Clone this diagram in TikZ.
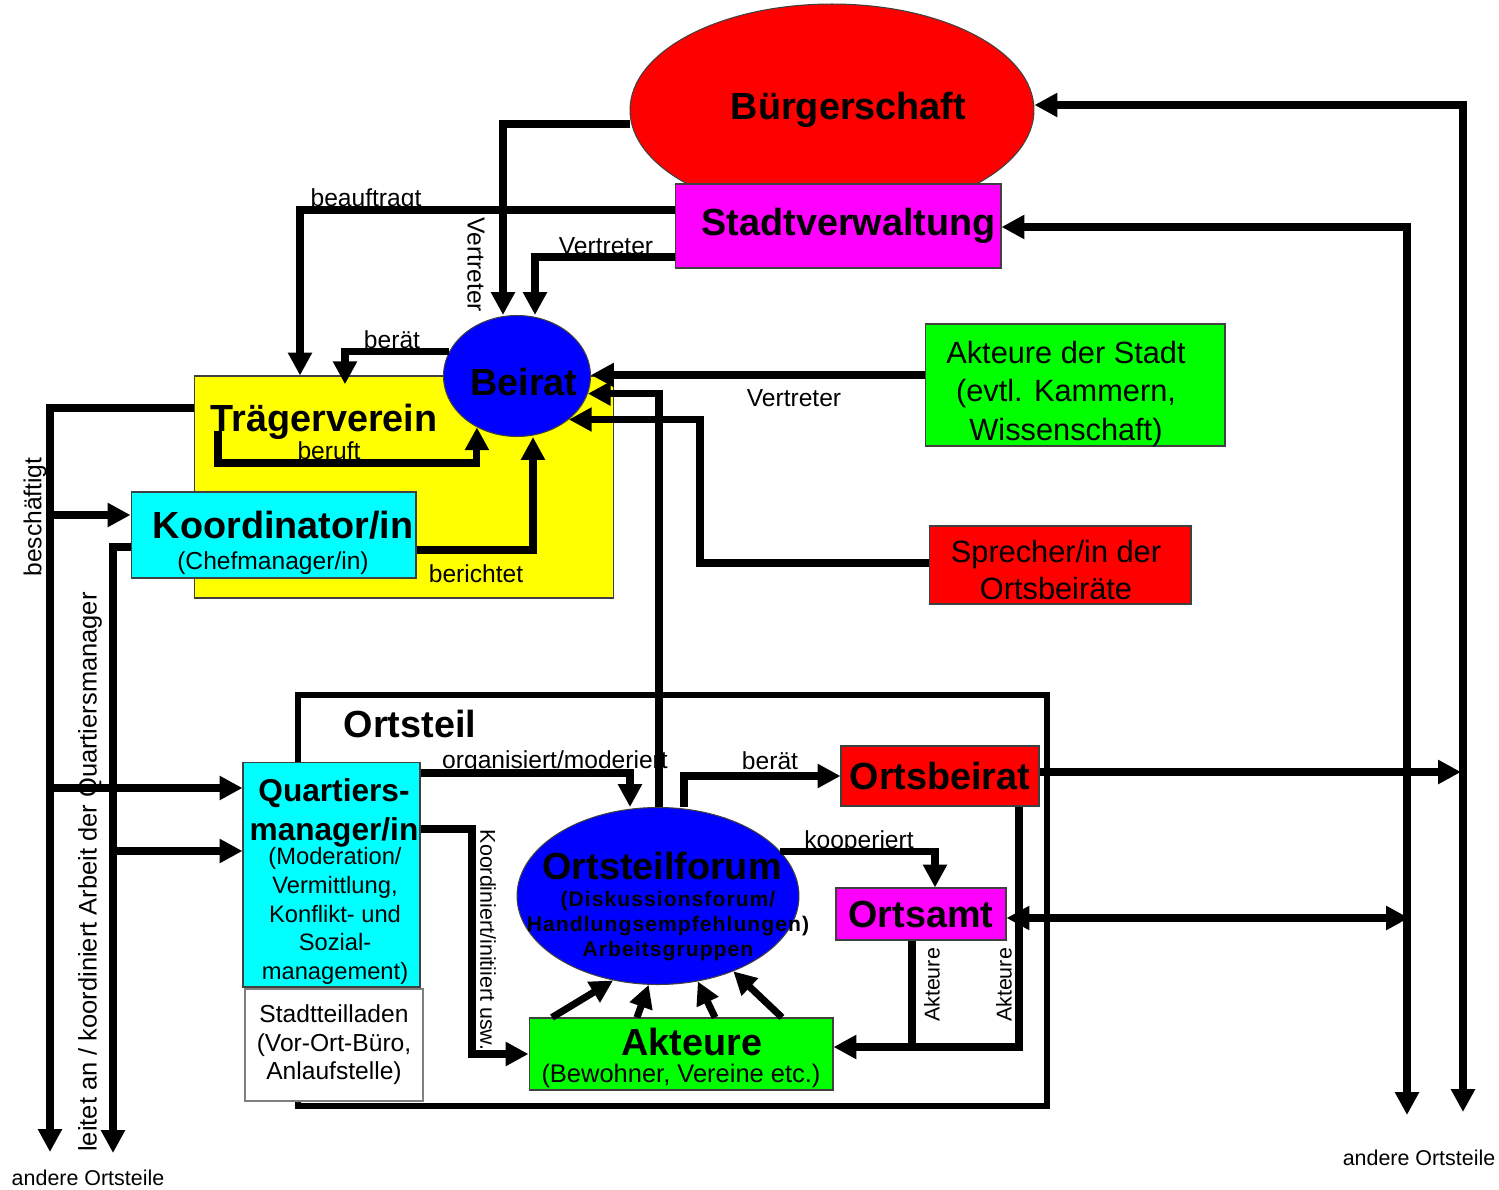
\documentclass[tikz,border=0pt]{standalone}
\usepackage{fontspec}
\setmainfont{Liberation Sans}
\usetikzlibrary{arrows.meta,shapes.geometric}
\definecolor{fillred}{RGB}{255,0,0}
\definecolor{fillmag}{RGB}{255,0,255}
\definecolor{fillyel}{RGB}{255,255,0}
\definecolor{fillcyan}{RGB}{0,255,255}
\definecolor{fillblue}{RGB}{0,0,255}
\definecolor{fillgreen}{RGB}{0,255,0}

\begin{document}
\begin{tikzpicture}[
  x=0.02cm,
  y=-0.02cm,
  link/.style={draw=black,line width=4pt},
  arr/.style={link,-{Triangle[length=13pt,width=13pt]}},
  darr/.style={link,{Triangle[length=13pt,width=13pt]}-{Triangle[length=13pt,width=13pt]}},
  box/.style={draw=black!75,line width=0.6pt,inner sep=0pt},
  oval/.style={ellipse,draw=black!75,line width=0.6pt,inner sep=0pt},
  head/.style={font=\fontsize{21.5}{25}\selectfont\bfseries,inner sep=0pt},
  lab/.style={font=\fontsize{14}{16}\selectfont,inner sep=0pt},
  side/.style={font=\fontsize{12.2}{14}\selectfont,inner sep=0pt}
]
  \useasboundingbox (0,0) rectangle (1499,1190);

  % City level
  \node[oval,head,fill=fillred,minimum width=8.08cm,minimum height=4.24cm,
    text width=5.36cm,align=right]
    (buerger) at (832,110) {Bürgerschaft};
  \node[box,head,fill=fillmag,minimum width=6.52cm,minimum height=1.68cm,
    text width=6.3cm,align=right]
    (stadtv) at (838,226) {Stadtverwaltung};
  \node[box,fill=fillyel,minimum width=8.4cm,minimum height=4.44cm]
    (traeger) at (404,487) {};
  \node[head,anchor=base] (traegertext) at (324,431) {Trägerverein};
  \node[box,fill=fillcyan,minimum width=5.7cm,minimum height=1.72cm]
    (koord) at (273.5,535) {};
  \node[head] (koordtext) at (283,525) {Koordinator/in};
  \node[lab] (chef) at (273,563) {(Chefmanager/in)};
  \node[oval,fill=fillblue,minimum width=2.94cm,minimum height=2.42cm]
    (beirat) at (517,376) {};
  \node[head] (beirattext) at (524,382) {Beirat};
  \node[box,fill=fillgreen,minimum width=6cm,minimum height=2.44cm]
    (akstadt) at (1075,385) {};
  \node[align=center,inner sep=0pt,font=\fontsize{17.5}{22}\selectfont]
    (akstadttext) at (1066,394) {Akteure der Stadt\\(evtl. Kammern,\\Wissenschaft)};
  \node[box,fill=fillred,minimum width=5.24cm,minimum height=1.56cm]
    (sprecher) at (1060,565) {};
  \node[align=center,inner sep=0pt,font=\fontsize{17.5}{21.5}\selectfont]
    (sprechertext) at (1056,570) {Sprecher/in der\\Ortsbeiräte};

  % Ortsteil
  \node[draw=black,line width=3pt,minimum width=14.98cm,minimum height=8.22cm]
    (ortsteil) at (672.5,900.5) {};
  \node[head] (ortsteiltext) at (410,724) {Ortsteil};
  \node[box,fill=fillcyan,minimum width=3.54cm,minimum height=4.5cm]
    (qm) at (331.5,874.5) {};
  \node[align=center,font=\fontsize{18}{22}\selectfont\bfseries,inner sep=0pt]
    (qmtitle) at (334,813) {Quartiers-\\manager/in};
  \node[align=center,font=\fontsize{13.5}{16.4}\selectfont,inner sep=0pt]
    (qmsub) at (335,916)
    {(Moderation/\\Vermittlung,\\Konflikt- und\\Sozial-\\management)};
  \node[box,draw=black!50,fill=white,minimum width=3.56cm,minimum height=2.24cm,
    align=center,font=\fontsize{14}{16.2}\selectfont]
    (laden) at (334,1045) {Stadtteilladen\\(Vor-Ort-Büro,\\Anlaufstelle)};
  \node[oval,fill=fillblue,minimum width=5.64cm,minimum height=3.54cm]
    (forum) at (658,896) {};
  \node[head] (forumtitle) at (662,866) {Ortsteilforum};
  \node[align=center,inner sep=0pt,
    font=\fontsize{12}{14}\selectfont\bfseries\addfontfeature{LetterSpace=5}]
    (forumsub) at (668,926)
    {(Diskussionsforum/\\Handlungsempfehlungen)\\Arbeitsgruppen};
  \node[box,head,fill=fillred,minimum width=3.96cm,minimum height=1.2cm]
    (obeirat) at (940,776) {Ortsbeirat};
  \node[box,head,fill=fillmag,minimum width=3.4cm,minimum height=1.04cm]
    (oamt) at (921,914) {Ortsamt};
  \node[box,fill=fillgreen,minimum width=6.08cm,minimum height=1.44cm]
    (akteure) at (681,1054) {};
  \node[head] (akteuretext) at (692,1042) {Akteure};
  \node[inner sep=0pt,font=\fontsize{14.5}{16}\selectfont]
    (bewohner) at (681,1076) {(Bewohner, Vereine etc.)};

  % free ends towards other districts
  \coordinate (outL1) at (50,1152);
  \coordinate (outL2) at (113,1153);
  \coordinate (outR1) at (1463,1112);
  \coordinate (outR2) at (1407,1115);
  \coordinate (obout) at (1461,772);
  \coordinate (oaout) at (1409,918);

  % connectors, upper part
  \draw[arr] (buerger.west |- 0,124) -| (beirat.north -| 503,0);
  \draw[arr] (stadtv.west |- 0,210) -| (traeger.north -| 300,0);
  \draw[arr] (stadtv.west |- 0,257) -| (beirat.north -| 535,0);
  \draw[arr,shorten >=-5pt] (beirat.160) -| (traeger.north -| 345,0);
  \draw[arr] (traegertext.base -| 218,0) -- ++(0,32) -| (beirat.232);
  \draw[arr] (koord.east |- 0,550) -| (beirat.south -| 533,0);
  \draw[arr] (akstadt.west |- 0,375) -- (beirat.east |- 0,375);
  \draw[arr] (forum.north -| 659,0) |- (beirat.346);
  \draw[arr] (sprecher.west |- 0,563) -| (beirat.320 -| 700,0) -- (beirat.320);
  \draw[darr] (buerger.east |- 0,105) -| (outR1);
  \draw[darr] (stadtv.east |- 0,227) -| (outR2);

  % connectors, left side
  \draw[arr] (traeger.west |- 0,408) -| (outL1);
  \draw[arr] (outL1 |- 0,515) -- (koord.west |- 0,515);
  \draw[arr] (koord.west |- 0,547) -| (outL2);
  \draw[arr] (outL1 |- 0,788) -- (qm.west |- 0,788);
  \draw[arr] (outL2 |- 0,851) -- (qm.west |- 0,851);

  % connectors inside the Ortsteil
  \draw[arr] (qm.east |- 0,773) -| (forum.north -| 630,0);
  \draw[arr] (qm.east |- 0,829) -| (akteure.west -| 472,0) -- (akteure.west);
  \draw[arr] (forum.north -| 684,0) |- (obeirat.west);
  \draw[arr] (forum.20) -| (oamt.north -| 935,0);
  \draw[arr] (obeirat.south -| 1019,0) |- (akteure.east |- 0,1047);
  \draw[link] (oamt.south -| 912,0) -- ++(0,107);
  \draw[arr] (akteure.north -| 552,0) -- (forum.242);
  \draw[arr] (akteure.north -| 637,0) -- (forum.264);
  \draw[arr] (akteure.north -| 715,0) -- (forum.295);
  \draw[arr] (akteure.north -| 782,0) -- (forum.315);
  \draw[arr] (obeirat.east |- 0,772) -- (obout);
  \draw[darr] (oamt.east |- 0,918) -- (oaout);

  % labels
  \node[lab,anchor=base] (lbeauftragt) at (366,206) {beauftragt};
  \node[lab,anchor=base] (lvertreter) at (606,254) {Vertreter};
  \node[lab,rotate=-90] (lvertreterb) at (476,265) {Vertreter};
  \node[lab,anchor=base] (lberaet) at (392,348) {berät};
  \node[lab,anchor=base] (lberuft) at (329,459) {beruft};
  \node[lab,anchor=base] (lberichtet) at (476,582) {berichtet};
  \node[lab,anchor=base] (lvertreterc) at (794,406) {Vertreter};
  \node[lab,anchor=base] (lorga) at (555,768) {organisiert/moderiert};
  \node[lab,anchor=base] (lberaetb) at (770,769) {berät};
  \node[lab,anchor=base] (lkoop) at (859,848) {kooperiert};
  \node[side,rotate=-90] (lkoord) at (488,940) {Koordiniert/initiiert usw.};
  \node[side,rotate=90] (lakta) at (932,985) {Akteure};
  \node[side,rotate=90] (laktb) at (1004,985) {Akteure};
  \node[lab,rotate=90] (lbesch) at (35,517) {beschäftigt};
  \node[inner sep=0pt,font=\fontsize{14.5}{16}\selectfont,rotate=90]
    (lleitet) at (90,872) {leitet an / koordiniert Arbeit der Quartiersmanager};
  \node[side] (landerel) at (88,1178) {andere Ortsteile};
  \node[side] (landerer) at (1419,1158) {andere Ortsteile};
\end{tikzpicture}
\end{document}
